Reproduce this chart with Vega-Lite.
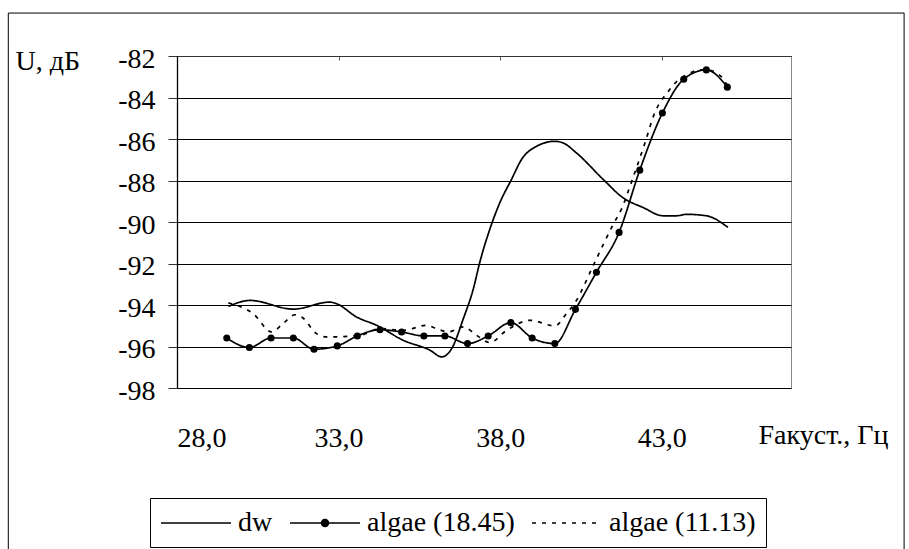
{
  "$schema": "https://vega.github.io/schema/vega-lite/v6.json",
  "width": 614,
  "height": 332,
  "autosize": "none",
  "padding": {"left": 177, "top": 56, "right": 118, "bottom": 161},
  "background": "white",
  "config": {
    "font": "Liberation Serif",
    "view": {"stroke": "#888888", "strokeWidth": 1},
    "axis": {"labelFont": "Liberation Serif", "titleFont": "Liberation Serif"},
    "legend": {"labelFont": "Liberation Serif"}
  },
  "data": {"values": [
    {"series": "dw", "f": 29.59, "u": -94.07},
    {"series": "dw", "f": 30.26, "u": -93.78},
    {"series": "dw", "f": 31.60, "u": -94.20},
    {"series": "dw", "f": 32.73, "u": -93.86},
    {"series": "dw", "f": 32.94, "u": -93.94},
    {"series": "dw", "f": 33.56, "u": -94.58},
    {"series": "dw", "f": 34.18, "u": -94.98},
    {"series": "dw", "f": 35.00, "u": -95.70},
    {"series": "dw", "f": 35.83, "u": -96.18},
    {"series": "dw", "f": 36.19, "u": -96.50},
    {"series": "dw", "f": 36.50, "u": -96.10},
    {"series": "dw", "f": 36.86, "u": -94.66},
    {"series": "dw", "f": 37.17, "u": -93.22},
    {"series": "dw", "f": 37.37, "u": -91.94},
    {"series": "dw", "f": 37.68, "u": -90.35},
    {"series": "dw", "f": 37.99, "u": -89.07},
    {"series": "dw", "f": 38.35, "u": -87.95},
    {"series": "dw", "f": 38.66, "u": -86.99},
    {"series": "dw", "f": 39.13, "u": -86.35},
    {"series": "dw", "f": 39.69, "u": -86.11},
    {"series": "dw", "f": 39.95, "u": -86.19},
    {"series": "dw", "f": 40.36, "u": -86.67},
    {"series": "dw", "f": 41.19, "u": -87.95},
    {"series": "dw", "f": 41.80, "u": -88.83},
    {"series": "dw", "f": 42.42, "u": -89.30},
    {"series": "dw", "f": 43.04, "u": -89.70},
    {"series": "dw", "f": 43.46, "u": -89.70},
    {"series": "dw", "f": 43.77, "u": -89.63},
    {"series": "dw", "f": 44.38, "u": -89.70},
    {"series": "dw", "f": 45.05, "u": -90.26},
    {"series": "algae (18.45)", "f": 29.54, "u": -95.59},
    {"series": "algae (18.45)", "f": 30.24, "u": -96.05},
    {"series": "algae (18.45)", "f": 30.91, "u": -95.59},
    {"series": "algae (18.45)", "f": 31.60, "u": -95.59},
    {"series": "algae (18.45)", "f": 32.24, "u": -96.13},
    {"series": "algae (18.45)", "f": 32.96, "u": -95.97},
    {"series": "algae (18.45)", "f": 33.58, "u": -95.49},
    {"series": "algae (18.45)", "f": 34.28, "u": -95.19},
    {"series": "algae (18.45)", "f": 34.95, "u": -95.30},
    {"series": "algae (18.45)", "f": 35.64, "u": -95.49},
    {"series": "algae (18.45)", "f": 36.29, "u": -95.49},
    {"series": "algae (18.45)", "f": 36.99, "u": -95.86},
    {"series": "algae (18.45)", "f": 37.63, "u": -95.49},
    {"series": "algae (18.45)", "f": 38.33, "u": -94.85},
    {"series": "algae (18.45)", "f": 38.99, "u": -95.59},
    {"series": "algae (18.45)", "f": 39.69, "u": -95.86},
    {"series": "algae (18.45)", "f": 40.33, "u": -94.21},
    {"series": "algae (18.45)", "f": 40.98, "u": -92.42},
    {"series": "algae (18.45)", "f": 41.68, "u": -90.50},
    {"series": "algae (18.45)", "f": 42.32, "u": -87.50},
    {"series": "algae (18.45)", "f": 43.02, "u": -84.75},
    {"series": "algae (18.45)", "f": 43.68, "u": -83.12},
    {"series": "algae (18.45)", "f": 44.38, "u": -82.67},
    {"series": "algae (18.45)", "f": 45.03, "u": -83.50},
    {"series": "algae (11.13)", "f": 29.59, "u": -93.90},
    {"series": "algae (11.13)", "f": 30.36, "u": -94.42},
    {"series": "algae (11.13)", "f": 30.93, "u": -95.30},
    {"series": "algae (11.13)", "f": 31.29, "u": -94.88},
    {"series": "algae (11.13)", "f": 31.65, "u": -94.47},
    {"series": "algae (11.13)", "f": 31.86, "u": -94.58},
    {"series": "algae (11.13)", "f": 32.32, "u": -95.38},
    {"series": "algae (11.13)", "f": 32.63, "u": -95.54},
    {"series": "algae (11.13)", "f": 33.66, "u": -95.46},
    {"series": "algae (11.13)", "f": 34.28, "u": -95.14},
    {"series": "algae (11.13)", "f": 35.00, "u": -95.22},
    {"series": "algae (11.13)", "f": 35.72, "u": -94.98},
    {"series": "algae (11.13)", "f": 36.03, "u": -95.14},
    {"series": "algae (11.13)", "f": 36.39, "u": -95.30},
    {"series": "algae (11.13)", "f": 36.86, "u": -95.05},
    {"series": "algae (11.13)", "f": 37.27, "u": -95.46},
    {"series": "algae (11.13)", "f": 37.68, "u": -95.81},
    {"series": "algae (11.13)", "f": 38.20, "u": -95.22},
    {"series": "algae (11.13)", "f": 38.93, "u": -94.74},
    {"series": "algae (11.13)", "f": 39.69, "u": -95.01},
    {"series": "algae (11.13)", "f": 40.05, "u": -94.42},
    {"series": "algae (11.13)", "f": 40.36, "u": -93.78},
    {"series": "algae (11.13)", "f": 40.88, "u": -92.10},
    {"series": "algae (11.13)", "f": 41.50, "u": -90.11},
    {"series": "algae (11.13)", "f": 41.75, "u": -89.39},
    {"series": "algae (11.13)", "f": 42.11, "u": -87.87},
    {"series": "algae (11.13)", "f": 42.48, "u": -86.19},
    {"series": "algae (11.13)", "f": 42.78, "u": -84.75},
    {"series": "algae (11.13)", "f": 43.20, "u": -83.71},
    {"series": "algae (11.13)", "f": 43.46, "u": -83.23},
    {"series": "algae (11.13)", "f": 43.87, "u": -82.83},
    {"series": "algae (11.13)", "f": 44.13, "u": -82.67},
    {"series": "algae (11.13)", "f": 44.38, "u": -82.67},
    {"series": "algae (11.13)", "f": 44.84, "u": -82.99},
    {"series": "algae (11.13)", "f": 45.03, "u": -83.44}
  ]},
  "resolve": {"axis": {"x": "independent"}},
  "layer": [
    {
      "mark": {"type": "line", "color": "black", "strokeWidth": 1.7, "interpolate": "monotone"},
      "encoding": {
        "x": {
          "field": "f", "type": "quantitative",
          "scale": {"domain": [28, 47], "nice": false, "zero": false},
          "axis": {
            "orient": "bottom", "values": [28, 33, 38, 43],
            "labelExpr": "replace(format(datum.value, '.1f'), '.', ',')",
            "domain": false, "ticks": false, "grid": false,
            "labelFont": "Liberation Serif", "labelFontSize": 28, "labelColor": "black", "labelPadding": 36,
            "title": "Fакуст., Гц", "titleFont": "Liberation Serif", "titleFontSize": 28, "titleFontWeight": "normal", "titleColor": "black",
            "titleAngle": 0, "titleAlign": "left", "titleBaseline": "middle",
            "titleX": 581, "titleY": 47
          }
        },
        "y": {
          "field": "u", "type": "quantitative",
          "scale": {"domain": [-98, -82], "nice": false, "zero": false},
          "axis": {
            "orient": "left", "values": [-98, -96, -94, -92, -90, -88, -86, -84, -82],
            "labelExpr": "'-' + abs(datum.value)",
            "grid": true, "gridColor": "black", "gridWidth": 1, "gridOpacity": 1,
            "domainColor": "black", "domainWidth": 1.3,
            "tickColor": "#333333", "tickSize": 9, "tickWidth": 1,
            "labelFont": "Liberation Serif", "labelFontSize": 28, "labelColor": "black", "labelPadding": 13, "labelOffset": 3,
            "title": "U, дБ", "titleFont": "Liberation Serif", "titleFontSize": 28, "titleFontWeight": "normal", "titleColor": "black",
            "titleAngle": 0, "titleAlign": "left", "titleBaseline": "middle",
            "titleX": -162, "titleY": 5
          }
        },
        "strokeDash": {
          "field": "series", "type": "nominal",
          "scale": {"domain": ["dw", "algae (18.45)", "algae (11.13)"], "range": [[1, 0], [1, 0], [4, 6]]},
          "legend": {
            "orient": "none", "direction": "horizontal", "columns": 3,
            "legendX": -27, "legendY": 442,
            "title": null,
            "strokeColor": "black", "padding": 10, "fillColor": "white",
            "symbolSize": 784, "symbolStrokeColor": "black", "symbolStrokeWidth": 1.5, "symbolFillColor": "black",
            "labelFont": "Liberation Serif", "labelFontSize": 28, "labelColor": "black", "labelOffset": 48, "labelLimit": 300,
            "columnPadding": 14,
            "encode": {"symbols": {"update": {
              "shape": {"signal": "datum.value === 'algae (18.45)' ? 'M-1,0H4M1.25,0A0.25,0.25,0,1,1,1.75,0A0.25,0.25,0,1,1,1.25,0Z' : 'M-1,0H4'"},
              "fill": {"value": "black"},
              "stroke": {"value": "black"},
              "strokeWidth": {"value": 1.5},
              "strokeDash": {"signal": "datum.value === 'algae (11.13)' ? [2, 6] : [1, 0]"},
              "opacity": {"value": 1}
            }}}
          }
        }
      }
    },
    {
      "mark": {"type": "point", "filled": true, "size": 50, "color": "black", "opacity": 1},
      "transform": [{"filter": "datum.series === 'algae (18.45)'"}],
      "encoding": {
        "x": {
          "field": "f", "type": "quantitative",
          "scale": {"domain": [28, 47], "nice": false, "zero": false},
          "axis": {
            "orient": "top", "values": [28, 33, 38, 43], "labels": false, "grid": false,
            "domainColor": "#333333", "tickColor": "#555555", "tickSize": -4, "title": null
          }
        },
        "y": {"field": "u", "type": "quantitative", "scale": {"domain": [-98, -82], "nice": false, "zero": false}}
      }
    },
    {
      "mark": {"type": "rect", "filled": false, "fill": "transparent", "fillOpacity": 0, "stroke": "black", "strokeWidth": 1},
      "data": {"values": [{"frame": 1}]},
      "encoding": {
        "x": {"datum": 22.78, "type": "quantitative", "scale": {"domain": [28, 47], "nice": false, "zero": false}, "axis": null},
        "x2": {"datum": 50.5},
        "y": {"datum": -79.93, "type": "quantitative", "scale": {"domain": [-98, -82], "nice": false, "zero": false}},
        "y2": {"datum": -106.3}
      }
    }
  ]
}
